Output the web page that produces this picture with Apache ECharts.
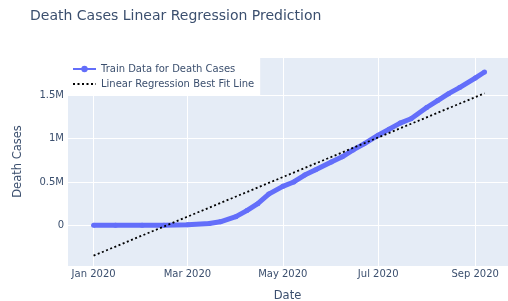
<!DOCTYPE html>
<html>
<head>
<meta charset="utf-8">
<script src="https://cdn.jsdelivr.net/npm/echarts@6/dist/echarts.min.js"></script>
<style>
html,body{margin:0;padding:0;background:#fff;}
#chart{width:508px;height:301px;}
</style>
</head>
<body>
<div id="chart"></div>
<script>
// Training data (dates and cumulative death cases)
const trainDates = ['2020-01-01','2020-01-15','2020-02-01','2020-02-15','2020-03-01','2020-03-15','2020-03-22','2020-04-01','2020-04-08','2020-04-15','2020-04-22','2020-05-01','2020-05-08','2020-05-15','2020-05-22','2020-06-01','2020-06-08','2020-06-15','2020-06-22','2020-07-01','2020-07-08','2020-07-15','2020-07-22','2020-08-01','2020-08-08','2020-08-15','2020-08-22','2020-09-01','2020-09-07'];
const trainDeaths = [0,0,0,1000,5000,20000,40000,100000,170000,250000,360000,450000,500000,580000,640000,730000,790000,870000,940000,1040000,1110000,1180000,1230000,1360000,1440000,1520000,1590000,1700000,1770000];
// Linear regression best fit line (endpoints)
const fitDates = ['2020-01-01','2020-09-07'];
const fitDeaths = [-351000,1524000];
// Axis settings
const xMin = '2019-12-15';
const xMax = '2020-09-22';
const yMin = -470000;
const yMax = 1943000;
const monthNames = ['Jan','Feb','Mar','Apr','May','Jun','Jul','Aug','Sep','Oct','Nov','Dec'];

const FONT = '"DejaVu Sans", Verdana, sans-serif';
const TXT = '#3b4f6e';

const chart = echarts.init(document.getElementById('chart'), null, {renderer:'canvas'});
chart.setOption({
  animation:false,
  backgroundColor:'#ffffff',
  title:{
    text:'Death Cases Linear Regression Prediction',
    left:25, top:4,
    textStyle:{fontFamily:FONT,fontSize:14,fontWeight:'normal',color:TXT}
  },
  legend:{
    left:67, top:57,
    orient:'vertical',
    backgroundColor:'#ffffff',
    padding:[7,6,7,5],
    itemGap:5,
    itemWidth:23, itemHeight:8,
    textStyle:{fontFamily:FONT,fontSize:10,color:TXT},
    data:[
      {name:'Train Data for Death Cases'},
      {name:'Linear Regression Best Fit Line', itemStyle:{color:'rgba(0,0,0,0)',borderWidth:0}}
    ]
  },
  grid:{left:67,right:0,top:57,bottom:35,show:true,backgroundColor:'#E5ECF6',borderWidth:0,containLabel:false,outerBoundsMode:'none'},
  xAxis:{
    type:'time',
    min:xMin, max:xMax,
    splitNumber:4,
    name:'Date', nameLocation:'middle', nameGap:24,
    nameTextStyle:{fontFamily:FONT,fontSize:11.5,color:TXT},
    axisLine:{show:false}, axisTick:{show:false},
    splitLine:{show:true,lineStyle:{color:'#ffffff',width:1}},
    axisLabel:{
      fontFamily:FONT,fontSize:10,color:TXT,margin:3,
      showMinLabel:false, showMaxLabel:false,
      formatter:function(v){const d=new Date(v);return monthNames[d.getMonth()]+' '+d.getFullYear();}
    }
  },
  yAxis:{
    type:'value',
    min:yMin, max:yMax,
    name:'Death Cases', nameLocation:'middle', nameGap:43,
    nameTextStyle:{fontFamily:FONT,fontSize:11.5,color:TXT},
    axisLine:{show:false}, axisTick:{show:false},
    splitLine:{show:true,lineStyle:{color:'#ffffff',width:1}},
    axisLabel:{
      fontFamily:FONT,fontSize:10,color:TXT,margin:3,
      showMinLabel:false, showMaxLabel:false,
      formatter:function(v){ if(v===0) return '0'; return (v/1e6)+'M'; }
    }
  },
  series:[
    {
      name:'Train Data for Death Cases',
      type:'line',
      data:trainDates.map((d,i)=>[d,trainDeaths[i]]),
      symbol:'circle', symbolSize:5, showSymbol:true,
      itemStyle:{color:'#636efa'},
      lineStyle:{color:'#636efa',width:5},
      z:2
    },
    {
      name:'Linear Regression Best Fit Line',
      type:'line',
      data:fitDates.map((d,i)=>[d,fitDeaths[i]]),
      symbol:'none',
      itemStyle:{color:'#000000'},
      lineStyle:{color:'#000000',width:1.8,type:[2,2.5]},
      z:3
    }
  ]
});
</script>
</body>
</html>
